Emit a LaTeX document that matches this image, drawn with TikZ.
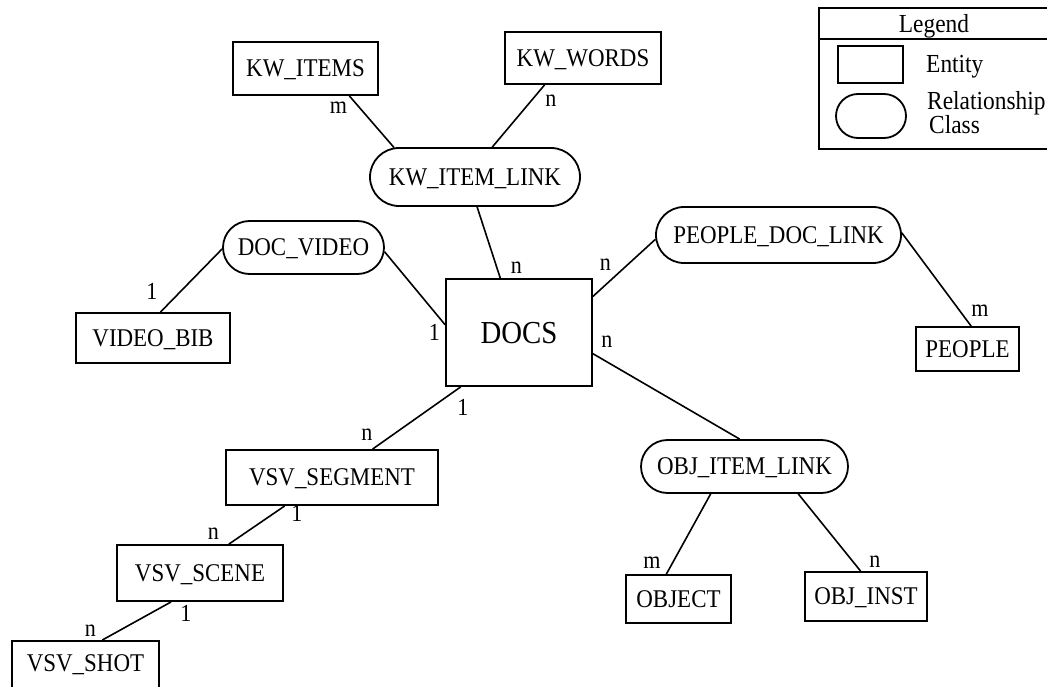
\documentclass[tikz,border=0pt]{standalone}
\usepackage{fontspec}
\setmainfont{Liberation Serif}[FakeStretch=0.9]
\usetikzlibrary{shapes.misc}
\tikzset{
  lbl/.style={font=\fontsize{25.5}{28}\selectfont, text height=16.7pt, text depth=0pt, inner sep=0pt},
  entity/.style={lbl, draw, line width=1.8pt, rectangle},
  relship/.style={lbl, draw, line width=1.8pt, rounded rectangle},
  card/.style={font=\fontsize{24.5}{27}\selectfont, inner sep=0pt, anchor=base},
  legtext/.style={font=\fontsize{26}{19}\selectfont, inner sep=0pt},
  link/.style={line width=1.6pt},
}
\begin{document}
\begin{tikzpicture}[x=1pt, y=-1pt]
\useasboundingbox (0,0) rectangle (1047,687);

% entities and relationship classes
\node[entity, minimum width=145pt, minimum height=53pt] (kwitems) at (305.5,68.5) {KW\_ITEMS};
\node[entity, minimum width=156pt, minimum height=52pt] (kwwords) at (583,58) {KW\_WORDS};
\node[relship, minimum width=210pt, minimum height=58pt] (kwlink) at (475,177) {KW\_ITEM\_LINK};
\node[relship, minimum width=161pt, minimum height=53pt] (docvideo) at (303.5,247.5) {DOC\_VIDEO};
\node[entity, minimum width=154pt, minimum height=50pt] (videobib) at (153,338) {VIDEO\_BIB};
\node[entity, minimum width=146pt, minimum height=107pt, font=\fontsize{32}{35}\selectfont, text height=21pt] (docs) at (519,332.5) {DOCS};
\node[relship, minimum width=245pt, minimum height=56pt] (peoplelink) at (778.5,235) {PEOPLE\_DOC\_LINK};
\node[entity, minimum width=103pt, minimum height=44pt] (people) at (967.5,349) {PEOPLE};
\node[relship, minimum width=207pt, minimum height=53pt] (objlink) at (744.5,466.5) {OBJ\_ITEM\_LINK};
\node[entity, minimum width=105pt, minimum height=48pt] (object) at (678.5,599) {OBJECT};
\node[entity, minimum width=122pt, minimum height=49pt] (objinst) at (866,596.5) {OBJ\_INST};
\node[entity, minimum width=212pt, minimum height=55pt] (vsvsegment) at (332,477.5) {VSV\_SEGMENT};
\node[entity, minimum width=166pt, minimum height=56pt] (vsvscene) at (200,573) {VSV\_SCENE};
\node[entity, minimum width=147pt, minimum height=56pt, text depth=12pt] (vsvshot) at (85.5,669) {VSV\_SHOT};

% relationships
\draw[link] (kwitems.-32) -- (kwlink.160);
\draw[link] (kwwords.215) -- (kwlink.60);
\draw[link] (kwlink.-86) -- (docs.109);
\draw[link] (videobib.74) -- (docvideo.181);
\draw[link] (docvideo.-3) -- (docs.174);
\draw[link] (docs.26) -- (peoplelink.182);
\draw[link] (peoplelink.1) -- (people.81);
\draw[link] (docs.-16) -- (objlink.100);
\draw[link] (objlink.219) -- (object.116);
\draw[link] (objlink.-27) -- (objinst.102);
\draw[link] (docs.223) -- (vsvsegment.35);
\draw[link] (vsvsegment.211) -- (vsvscene.45);
\draw[link] (vsvscene.225) -- (vsvshot.60);

% cardinalities
\node[card] (c1) at (338.5,114) {m};
\node[card] (c2) at (551,107) {n};
\node[card] (c3) at (516.5,273) {n};
\node[card] (c4) at (152,299) {1};
\node[card] (c5) at (434.5,340) {1};
\node[card] (c6) at (605.5,270) {n};
\node[card] (c7) at (980,316) {m};
\node[card] (c8) at (607,347) {n};
\node[card] (c9) at (463,415) {1};
\node[card] (c10) at (367,440) {n};
\node[card] (c11) at (297,521) {1};
\node[card] (c12) at (213.5,539) {n};
\node[card] (c13) at (186,621) {1};
\node[card] (c14) at (90.5,636) {n};
\node[card] (c15) at (652,568) {m};
\node[card] (c16) at (875,567) {n};

% legend
\draw[line width=1.8pt] (1050,8) -- (819,8) -- (819,149) -- (1050,149);
\draw[line width=1.8pt] (819,39) -- (1050,39);
\node[legtext, anchor=base] (legtitle) at (934,33) {Legend};
\node[draw, line width=1.8pt, minimum width=65pt, minimum height=37pt, inner sep=0pt] (legent) at (870.5,64.5) {};
\node[legtext, anchor=base west] (legenttext) at (926,73) {Entity};
\node[draw, line width=1.8pt, rounded rectangle, minimum width=70pt, minimum height=44pt, inner sep=0pt] (legrel) at (871,116) {};
\node[legtext, align=left, anchor=north west] (legreltext) at (927,91) {Relationship\\\hspace{2pt}Class};
\end{tikzpicture}
\end{document}
